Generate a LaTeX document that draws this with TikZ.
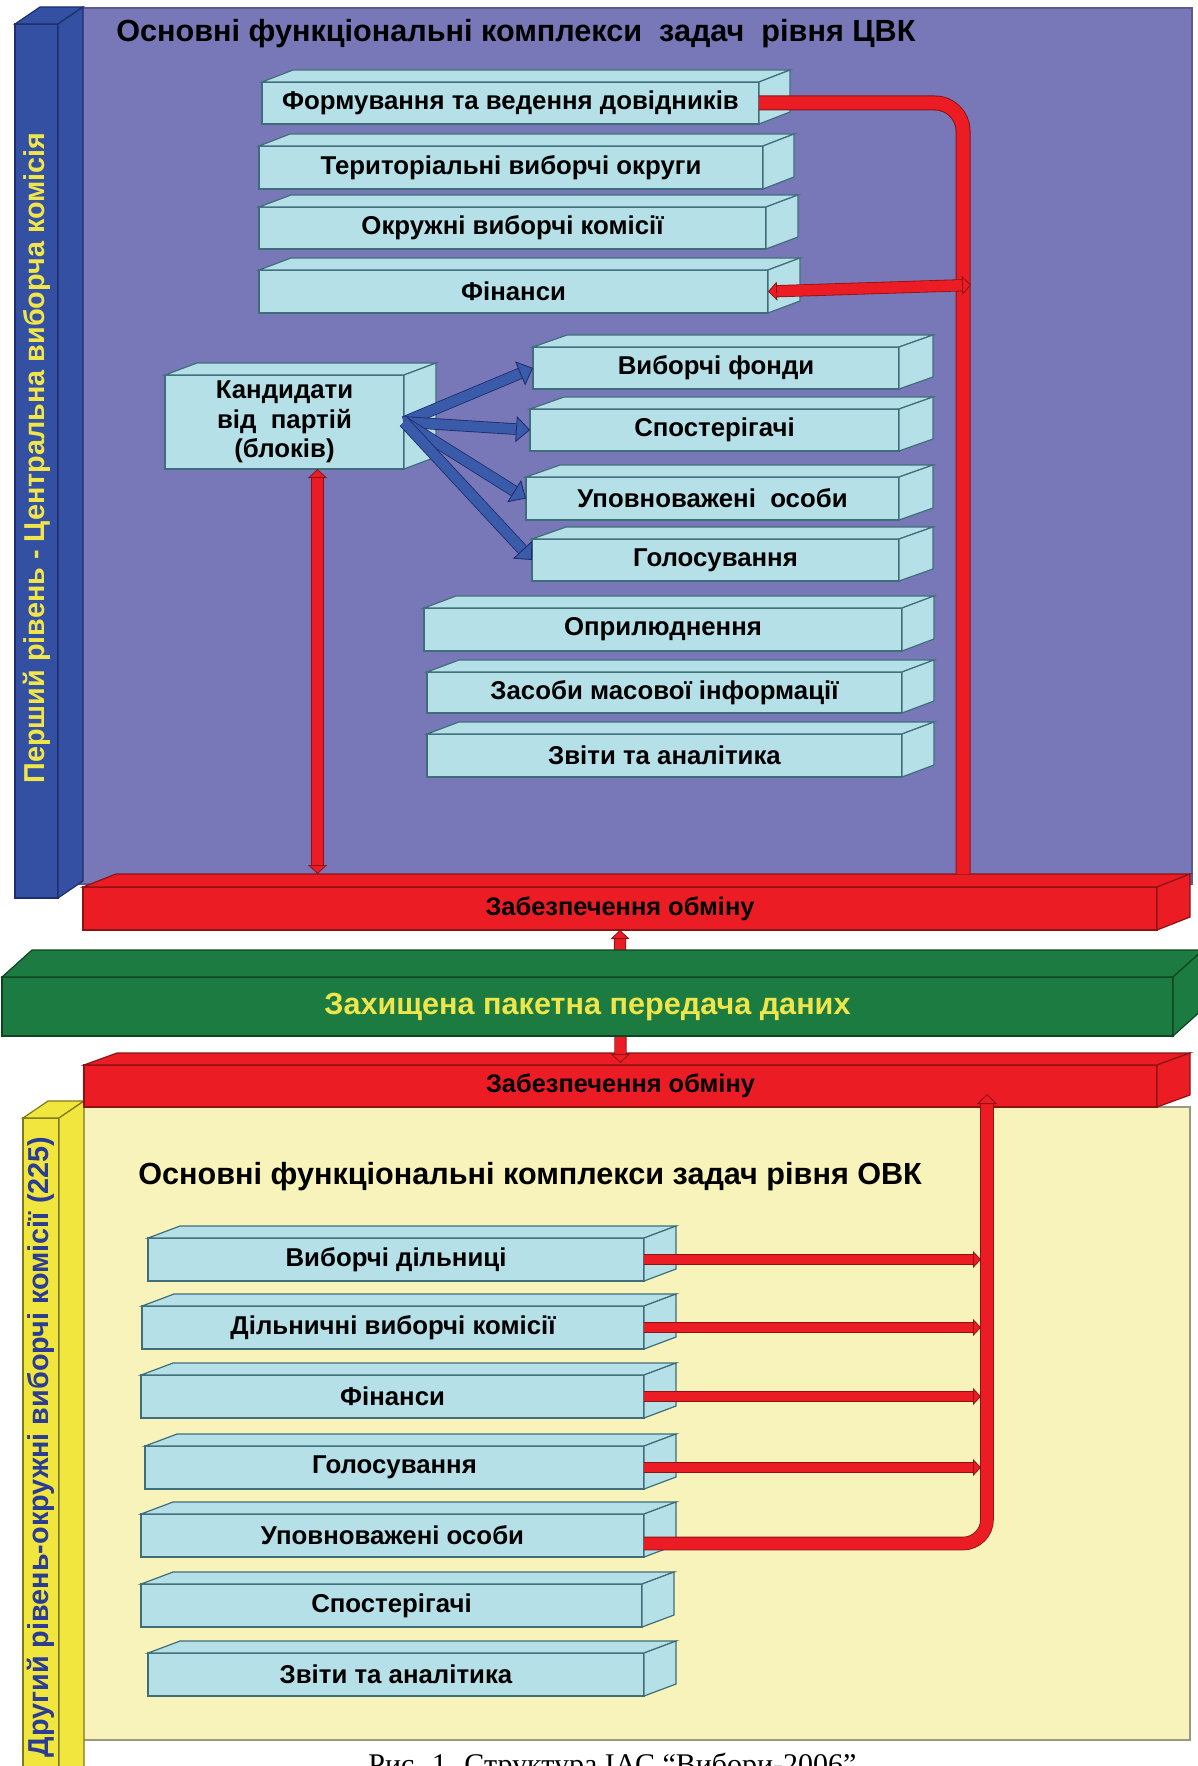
\documentclass[tikz,border=0pt]{standalone}
\usepackage{fontspec}
\setmainfont{Liberation Sans}
\newfontfamily\capfont{Liberation Serif}
\usetikzlibrary{calc,fit,arrows.meta}

\definecolor{cvkbg}{HTML}{7878B8}
\definecolor{cvkedge}{HTML}{5A5A90}
\definecolor{bluecolc}{HTML}{3450A2}
\definecolor{bluecoledge}{HTML}{1E2E6E}
\definecolor{boxfill}{HTML}{B6E0E8}
\definecolor{boxedge}{HTML}{3E6E7A}
\definecolor{redc}{HTML}{EC1C24}
\definecolor{reddark}{HTML}{8C1214}
\definecolor{greenc}{HTML}{1B7B40}
\definecolor{greendark}{HTML}{0E4422}
\definecolor{yelcolc}{HTML}{F0E63E}
\definecolor{yelcoledge}{HTML}{807818}
\definecolor{ovkbg}{HTML}{F8F3BA}
\definecolor{ovkedge}{HTML}{9C9880}
\definecolor{txtyellow}{HTML}{F0E64C}
\definecolor{txtblue}{HTML}{2A3C94}
\definecolor{bluearrc}{HTML}{3A5AAA}
\definecolor{bluedark}{HTML}{1C2A6A}

\tikzset{
  faceset/.style={line width=0.6pt, outer sep=0pt, inner sep=0pt, align=center},
  lbox/.style={faceset, draw=boxedge, fill=boxfill, text=black,
    font=\bfseries\fontsize{12.9}{14.8}\selectfont},
  redbar/.style={faceset, draw=reddark, fill=redc, text=black,
    font=\bfseries\fontsize{12.7}{14.5}\selectfont},
  greenbar/.style={faceset, draw=greendark, fill=greenc, text=txtyellow,
    font=\bfseries\fontsize{15.3}{18}\selectfont},
  bluecol/.style={faceset, draw=bluecoledge, fill=bluecolc},
  yelcol/.style={faceset, draw=yelcoledge, fill=yelcolc},
  cvkpanel/.style={faceset, draw=cvkedge, fill=cvkbg},
  ovkpanel/.style={faceset, draw=ovkedge, fill=ovkbg},
  titletext/.style={font=\bfseries\fontsize{15.3}{18}\selectfont, text=black, inner sep=0pt},
  sidetext/.style={font=\bfseries\fontsize{14.4}{16}\selectfont, inner sep=0pt, rotate=90},
  redpipe/.style={draw=redc, line width=6.5pt, line cap=butt,
    preaction={draw=reddark, line width=7.5pt}},
  redarrtwo/.style={draw=redc, line width=5.3pt, line cap=butt,
    {Triangle[length=4.5pt,width=9.5pt,line width=0.4pt,color=reddark,fill=redc]}-{Triangle[length=4.5pt,width=9.5pt,line width=0.4pt,color=reddark,fill=redc]},
    preaction={draw=reddark, line width=6.1pt, arrows=-, shorten >=4.5pt, shorten <=4.5pt}},
  redarrone/.style={draw=redc, line width=4.8pt, line cap=butt,
    -{Triangle[length=4pt,width=8.5pt,line width=0.4pt,color=reddark,fill=redc]},
    preaction={draw=reddark, line width=5.6pt, arrows=-, shorten >=4pt}},
  upbus/.style={draw=redc, line width=6pt, line cap=butt,
    -{Triangle[length=5pt,width=10pt,line width=0.4pt,color=reddark,fill=redc]},
    preaction={draw=reddark, line width=6.8pt, arrows=-, shorten >=5pt}},
  bluearr/.style={draw=bluearrc, line width=5pt, line cap=butt,
    -{Triangle[length=7pt,width=13pt,line width=0.4pt,color=bluedark,fill=bluearrc]},
    preaction={draw=bluedark, line width=5.8pt, arrows=-, shorten >=7pt}},
}

% #1 style, #2 name, #3 top-left, #4 bottom-right, #5 dx, #6 dy, #7 text
\newcommand{\mkbox}[7]{%
  \node[#1, fit={#3 #4}] (#2) {};
  \draw[#1] (#2.north west) -- ++(#5,#6) -- ($(#2.north east)+(#5,#6)$) -- (#2.north east) -- cycle;
  \draw[#1] (#2.north east) -- ++(#5,#6) -- ($(#2.south east)+(#5,#6)$) -- (#2.south east) -- cycle;
  \node[#1, draw=none, fill=none] (#2-t) at (#2.center) {#7};
}

\begin{document}
\begin{tikzpicture}[x=0.5pt,y=-0.5pt]
\useasboundingbox (0,0) rectangle (1198,1766);
\clip (0,0) rectangle (1198,1766);
\fill[white] (0,0) rectangle (1198,1766);

% panels
\node[cvkpanel, fit={(80,8) (1192,884)}] (cvk) {};
\node[ovkpanel, fit={(82,1107) (1190,1740)}] (ovk) {};

% side columns
\mkbox{bluecol}{bcol}{(15,24)}{(58,898)}{25}{-17}{}
\node[sidetext, text=txtyellow] (bcoltxt) at (36.5,458) {Перший рівень - Центральна виборча комісія};
\mkbox{yelcol}{ycol}{(23,1118)}{(59,1800)}{25}{-17}{}
\node[sidetext, text=txtblue] (ycoltxt) at (41,1447) {Другий рівень-окружні виборчі комісії (225)};

% titles
\node[titletext, anchor=west] (t1) at (116,34) {Основні функціональні комплекси\ \ задач\ \ рівня ЦВК};
\node[titletext, anchor=west] (t2) at (138,1177) {Основні функціональні комплекси задач рівня ОВК};

% top boxes
\mkbox{lbox}{form}{(262,82)}{(759,124)}{31}{-12}{Формування та ведення довідників}
\mkbox{lbox}{terr}{(259,146)}{(763,189)}{31}{-12}{Територіальні виборчі округи}
\mkbox{lbox}{okr}{(259,207)}{(766,249)}{32}{-12}{Окружні виборчі комісії}
\mkbox{lbox}{fin}{(259,270)}{(768,313)}{32}{-12}{Фінанси}
\mkbox{lbox}{kand}{(165,375)}{(404,469)}{32}{-12}{Кандидати\\від\ \ партій\\(блоків)}
\mkbox{lbox}{vf}{(533,347)}{(899,389)}{34}{-12}{Виборчі фонди}
\mkbox{lbox}{sp}{(530,409)}{(899,451)}{34}{-12}{Спостерігачі}
\mkbox{lbox}{upov}{(526,477)}{(899,520)}{34}{-12}{Уповноважені\ \ особи}
\mkbox{lbox}{gol}{(532,539)}{(899,581)}{34}{-12}{Голосування}
\mkbox{lbox}{opr}{(424,608)}{(902,651)}{32}{-12}{Оприлюднення}
\mkbox{lbox}{zmi}{(427,672)}{(902,713)}{32}{-12}{Засоби масової інформації}
\mkbox{lbox}{zvit}{(427,734)}{(902,777)}{32}{-12}{Звіти та аналітика}

% bottom boxes
\mkbox{lbox}{vd}{(148,1238)}{(644,1281)}{32}{-12}{Виборчі дільниці}
\mkbox{lbox}{dvk}{(142,1306)}{(644,1349)}{32}{-12}{Дільничні виборчі комісії}
\mkbox{lbox}{fin2}{(141,1375)}{(644,1418)}{32}{-12}{Фінанси}
\mkbox{lbox}{gol2}{(145,1446)}{(644,1489)}{32}{-12}{Голосування}
\mkbox{lbox}{upov2}{(141,1514)}{(644,1557)}{32}{-12}{Уповноважені особи}
\mkbox{lbox}{sp2}{(141,1584)}{(642,1627)}{32}{-12}{Спостерігачі}
\mkbox{lbox}{zvit2}{(148,1653)}{(644,1696)}{32}{-12}{Звіти та аналітика}

% exchange bars
\mkbox{redbar}{bar1}{(83,887)}{(1157,930)}{33}{-13}{Забезпечення обміну}
\mkbox{redbar}{bar2}{(84,1065)}{(1157,1107)}{33}{-12}{Забезпечення обміну}
\draw[redarrtwo] (bar1.south) -- ([yshift=1pt]bar2.north);
\mkbox{greenbar}{green}{(2,977)}{(1173,1036)}{30}{-27}{Захищена пакетна передача даних}

% bus points
\coordinate (cvkbus) at (963,874);
\coordinate (finR) at (971,285);
\coordinate (ovkbus) at (987,1094);
\coordinate (ovkbusL) at (981,1100);
\coordinate (kandtop) at ([xshift=16.5pt]kand.south);
\coordinate (kandbot) at (kandtop |- cvkbus);

% top connectors
\draw[redpipe, rounded corners=14pt] (form.east) -| (cvkbus);
\draw[redarrtwo] (fin.east) -- (finR);
\draw[redarrtwo] (kandtop) -- (kandbot);
\draw[bluearr] (kand.east) -- (vf.west);
\draw[bluearr] (kand.east) -- (sp.west);
\draw[bluearr] (kand.east) -- (upov.west);
\draw[bluearr] (kand.east) -- (gol.west);

% bottom connectors
\draw[upbus, rounded corners=12pt] ([yshift=-4pt]upov2.east) -| (ovkbus);
\draw[redarrone] (vd.east) -- (vd.east -| ovkbusL);
\draw[redarrone] (dvk.east) -- (dvk.east -| ovkbusL);
\draw[redarrone] (fin2.east) -- (fin2.east -| ovkbusL);
\draw[redarrone] (gol2.east) -- (gol2.east -| ovkbusL);

% caption (cut off by the page edge, as in the original)
\node[font=\capfont\fontsize{15}{18}\selectfont, anchor=base west, inner sep=0pt] (cap) at (368,1774) {Рис. 1. Структура ІАС “Вибори-2006”};
\end{tikzpicture}
\end{document}
